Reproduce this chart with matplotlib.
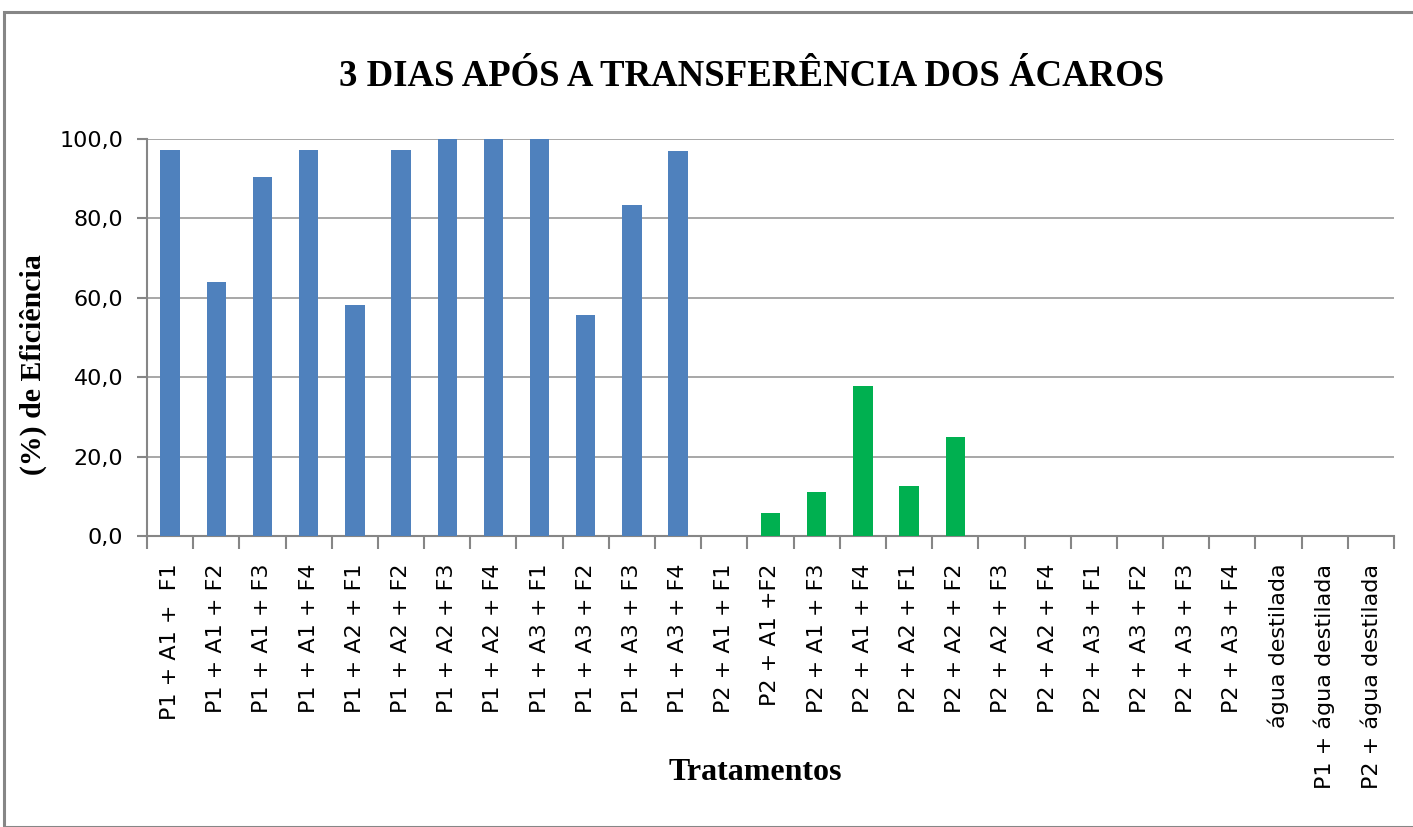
import matplotlib
matplotlib.use("Agg")
import matplotlib.pyplot as plt
from matplotlib.patches import Rectangle
import numpy as np

categories = [
    "P1 + A1 +  F1", "P1 + A1 + F2", "P1 + A1 + F3", "P1 + A1 + F4",
    "P1 + A2 + F1", "P1 + A2 + F2", "P1 + A2 + F3", "P1 + A2 + F4",
    "P1 + A3 + F1", "P1 + A3 + F2", "P1 + A3 + F3", "P1 + A3 + F4",
    "P2 + A1 + F1", "P2 + A1 +F2", "P2 + A1 + F3", "P2 + A1 + F4",
    "P2 + A2 + F1", "P2 + A2 + F2", "P2 + A2 + F3", "P2 + A2 + F4",
    "P2 + A3 + F1", "P2 + A3 + F2", "P2 + A3 + F3", "P2 + A3 + F4",
    "água destilada", "P1 + água destilada", "P2 + água destilada",
]
values = [
    97.3, 63.9, 90.4, 97.3, 58.1, 97.3, 100.0, 100.0, 100.0, 55.6, 83.3, 97.1,
    0.0, 5.9, 11.1, 37.9, 12.5, 25.0, 0.0, 0.0, 0.0, 0.0, 0.0, 0.0,
    0.0, 0.0, 0.0,
]
groups = ["P1"] * 12 + ["P2"] * 15
yticks = [0, 20, 40, 60, 80, 100]

color_map = {"P1": "#4F81BD", "P2": "#00B050"}

fig = plt.figure(figsize=(14.13, 8.27), dpi=100)
fig.patches.append(Rectangle((4 / 1413, 0), 1.0, 1 - 12 / 827, transform=fig.transFigure,
                             fill=False, edgecolor="#868686", linewidth=2.2))

ax = fig.add_axes([147 / 1413, 1 - 536 / 827, (1394 - 147) / 1413, (536 - 139) / 827])
x = np.arange(len(categories))
ax.bar(x, values, width=0.42, color=[color_map[g] for g in groups], zorder=3)

ax.set_xlim(-0.5, len(categories) - 0.5)
ax.set_ylim(0, 100)
ax.set_yticks(yticks)
ax.set_yticklabels([f"{v:.1f}".replace(".", ",") for v in yticks],
                   fontsize=16, family="DejaVu Sans", color="#000000")
ax.set_xticks(x)
ax.set_xticklabels(categories, rotation=90, fontsize=16, family="DejaVu Sans", va="top", ha="center")
ax.set_xticks(np.arange(-0.5, len(categories), 1.0), minor=True)
ax.tick_params(axis="x", which="major", length=0, pad=20)
ax.tick_params(axis="x", which="minor", length=9, color="#868686", width=1.5, direction="out")
ax.tick_params(axis="y", length=7, color="#868686", width=1.5, direction="out", pad=10)

ax.grid(axis="y", color="#A0A0A0", linewidth=1.3, zorder=0)
for s in ["top", "right"]:
    ax.spines[s].set_visible(False)
for s in ["left", "bottom"]:
    ax.spines[s].set_color("#868686")
    ax.spines[s].set_linewidth(1.5)

fig.text(752 / 1413, 1 - 76 / 827, "3 DIAS APÓS A TRANSFERÊNCIA DOS ÁCAROS", ha="center", va="center",
         fontsize=26.5, fontweight="bold", family="Liberation Serif")
fig.text(755 / 1413, 1 - 773 / 827, "Tratamentos", ha="center", va="center",
         fontsize=23, fontweight="bold", family="Liberation Serif")
fig.text(33 / 1413, 1 - 365 / 827, "(%) de Eficiência", ha="center", va="center", rotation=90,
         fontsize=21.5, fontweight="bold", family="Liberation Serif")

fig.savefig("out.png", dpi=100)
